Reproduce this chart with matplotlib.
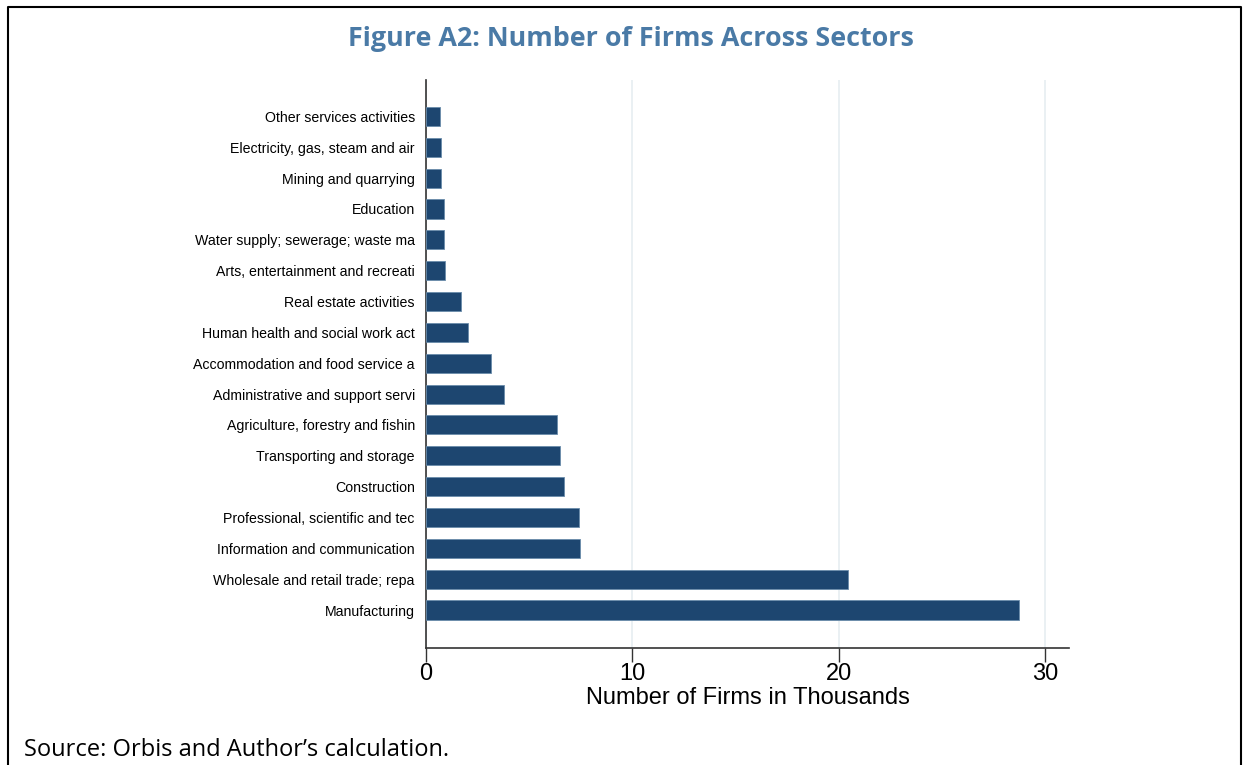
import matplotlib.pyplot as plt
from matplotlib.lines import Line2D

# sectors listed bottom to top (Manufacturing at the bottom)
sectors = [
    "Manufacturing",
    "Wholesale and retail trade; repa",
    "Information and communication",
    "Professional, scientific and tec",
    "Construction",
    "Transporting and storage",
    "Agriculture, forestry and fishin",
    "Administrative and support servi",
    "Accommodation and food service a",
    "Human health and social work act",
    "Real estate activities",
    "Arts, entertainment and recreati",
    "Water supply; sewerage; waste ma",
    "Education",
    "Mining and quarrying",
    "Electricity, gas, steam and air",
    "Other services activities",
]
firms_k = [28.76, 20.47, 7.45, 7.41, 6.69, 6.50, 6.36, 3.80, 3.14, 2.04, 1.68,
           0.92, 0.87, 0.87, 0.73, 0.73, 0.68]
xticks = [0, 10, 20, 30]

fig = plt.figure(figsize=(12.49, 7.65), dpi=100)
ax = fig.add_axes([0.341, 0.153, 0.515, 0.742])

ypos = list(range(len(sectors)))
ax.barh(ypos, firms_k, height=0.62, color="#1d4670", edgecolor="#6a8cab",
        linewidth=0.6, zorder=3)

ax.set_xlim(0, 31.17)
ax.set_ylim(-1.23, len(sectors) - 1 + 1.17)
ax.set_yticks(ypos)
ax.set_yticklabels(sectors, fontsize=10.2, family="Liberation Sans")
ax.tick_params(axis="y", length=0, pad=8)
ax.set_xticks(xticks)
ax.set_xticklabels([str(t) for t in xticks], fontsize=17, family="Liberation Sans")
ax.tick_params(axis="x", length=10, width=1, color="#333333", pad=1)
ax.grid(axis="x", color="#e6edf1", linewidth=1.2, zorder=0)
ax.set_xlabel("Number of Firms in Thousands", fontsize=17, family="Liberation Sans",
              labelpad=1)

for s in ["top", "right"]:
    ax.spines[s].set_visible(False)
for s in ["left", "bottom"]:
    ax.spines[s].set_color("#333333")
    ax.spines[s].set_linewidth(1.2)

fig.text(0.505, 0.949, "Figure A2: Number of Firms Across Sectors", ha="center",
         va="center", fontsize=19.4, fontweight="bold", color="#4a7aa6",
         family="Open Sans")
fig.text(0.019, 0.02, "Source: Orbis and Author\u2019s calculation.", ha="left",
         va="center", fontsize=17, family="Open Sans")

# frame around the figure (left, top, right)
x0, x1, yt = 0.0068, 0.9935, 0.9905
fig.add_artist(Line2D([x0, x0, x1, x1], [0, yt, yt, 0], transform=fig.transFigure,
                      color="black", linewidth=1.5))

fig.savefig("out.png", dpi=100, facecolor="white")
